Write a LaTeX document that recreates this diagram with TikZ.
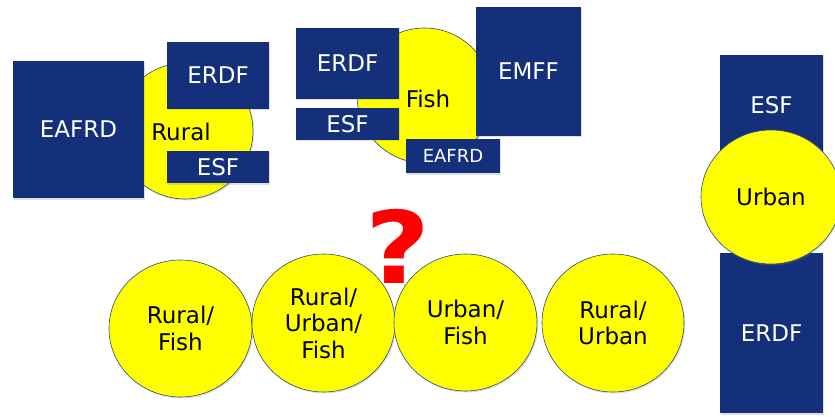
\documentclass[tikz,border=0pt]{standalone}
\usepackage{fontspec}
\setmainfont{DejaVu Sans}
\usetikzlibrary{shapes.geometric,shadows}
\definecolor{fundblue}{HTML}{14307A}
\definecolor{areafill}{HTML}{FFFF00}
\definecolor{arealine}{HTML}{2E4A80}
\definecolor{qred}{HTML}{FF0000}
\tikzset{
  fund/.style={rectangle, fill=fundblue, text=white, inner sep=0pt,
    font=\fontsize{23}{27}\selectfont,
    drop shadow={opacity=0.25, shadow xshift=1.2pt, shadow yshift=-1.5pt}},
  area/.style={ellipse, fill=areafill, draw=arealine, line width=0.6pt,
    inner sep=0pt, align=center, text=black,
    font=\fontsize{23}{26.5}\selectfont,
    drop shadow={opacity=0.25, shadow xshift=1.2pt, shadow yshift=-1.5pt}}
}
\begin{document}
\begin{tikzpicture}[x=1pt,y=-1pt]
\useasboundingbox (0,0) rectangle (835,417);
% Rural group
\node[area, minimum width=136pt, minimum height=136pt] (rural) at (185,131) {};
\node[text=black, font=\fontsize{23}{27}\selectfont] (ruraltxt) at (181,132) {Rural};
\node[fund, minimum width=131pt, minimum height=137pt] (reafrd) at (78.5,129.5) {EAFRD};
\node[fund, minimum width=102pt, minimum height=67pt] (rerdf) at (218,75.5) {ERDF};
\node[fund, minimum width=102pt, minimum height=32pt] (resf) at (218,167) {ESF};
% Fish group
\node[area, minimum width=135pt, minimum height=135pt] (fish) at (424.5,95.5) {};
\node[text=black, font=\fontsize{23}{27}\selectfont] (fishtxt) at (428,99) {Fish};
\node[fund, minimum width=103pt, minimum height=71pt] (ferdf) at (347.5,63.5) {ERDF};
\node[fund, minimum width=103pt, minimum height=32pt] (fesf) at (347.5,124) {ESF};
\node[fund, minimum width=105pt, minimum height=129pt] (femff) at (528.5,71.5) {EMFF};
\node[fund, minimum width=94pt, minimum height=34pt, font=\fontsize{18}{22}\selectfont] (feafrd) at (453,156) {EAFRD};
% Urban group
\node[fund, minimum width=103pt, minimum height=100pt] (uesf) at (771.5,105) {ESF};
\node[fund, minimum width=103pt, minimum height=160pt] (uerdf) at (771.5,333) {ERDF};
\node[area, minimum width=140pt, minimum height=134pt] (urban) at (771,197) {Urban};
% Combinations
\node[area, minimum width=143pt, minimum height=137pt] (rf) at (180.5,328.5) {Rural/\\Fish};
\node[area, minimum width=143pt, minimum height=138pt] (ruf) at (323.5,323) {Rural/\\Urban/\\Fish};
\node[area, minimum width=143pt, minimum height=137pt] (uf) at (465.5,322.5) {Urban/\\Fish};
\node[area, minimum width=142pt, minimum height=138pt] (ru) at (613,323) {Rural/\\Urban};
% Question mark
\node[text=qred, inner sep=0pt, font=\fontsize{100}{100}\bfseries\selectfont] (q) at (397.5,246.5) {\scalebox{1.12}[1]{?}};
\end{tikzpicture}
\end{document}
